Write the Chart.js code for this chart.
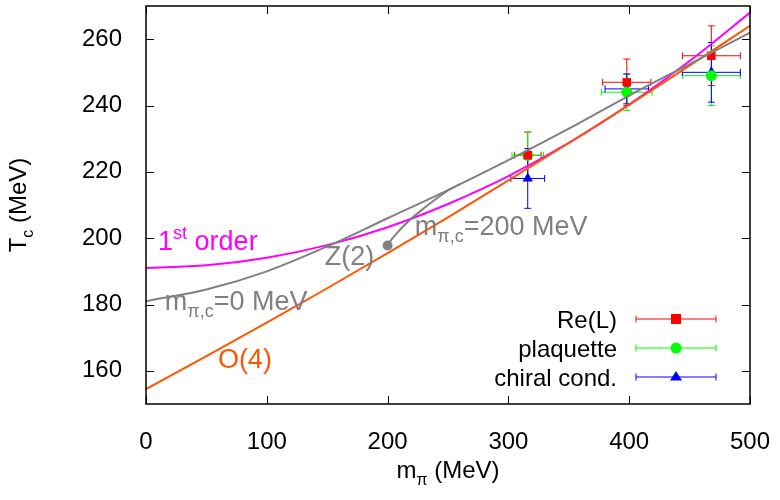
<!DOCTYPE html>
<html>
<head>
<meta charset="utf-8">
<script src="https://cdn.jsdelivr.net/npm/chart.js@4"></script>
<style>
  html, body { margin: 0; padding: 0; background: #fff; }
  #wrap { width: 780px; height: 500px; }
</style>
</head>
<body>
<div id="wrap"><canvas id="tcChart" width="780" height="500"></canvas></div>
<script>
// tick values
const xTicks = [0, 100, 200, 300, 400, 500];
const yTicks = [160, 180, 200, 220, 240, 260];

// curves (m_pi in MeV -> T_c in MeV)
const curveM = [0, 50, 100, 150, 200, 250, 300, 350, 400, 450, 500];
const firstOrderT = [191, 191.8, 194.1, 197.9, 203.3, 210.3, 218.7, 228.7, 240.3, 253.4, 268];
const o4T = [154.5, 164.4, 174.5, 184.9, 195.5, 206.3, 217.4, 228.7, 240.2, 252, 264];
const z2zeroT = [181, 184.5, 190, 197.5, 206, 214.5, 223.5, 233, 243, 252.5, 262];
// curve that starts at the Z(2) point m_pi,c = 200 MeV
const z2cM = [200, 203, 207, 212, 220, 230, 240, 250, 260];
const z2cT = [197.8, 199.5, 201.2, 203.2, 206, 209, 211.8, 214.4, 216.3];

// lattice points
const latM = [316, 398, 468];
const reLT = [225, 247, 255];
const reLTerr = [7, 7, 9];
const reLMerr = [11, 20, 24];
const plaqT = [225, 244, 249];
const plaqTerr = [7, 5.5, 9];
const plaqMerr = [13, 21, 24];
const chiralT = [218, 245, 250];
const chiralTerr = [9, 4.5, 9];
const chiralMerr = [14, 18, 24];

const FONT = "'Liberation Sans', Arial, sans-serif";
const GRAY = '#808080';

function pts(xs, ys) {
    return xs.map((x, i) => ({ x: x, y: ys[i] }));
}

// text with sub/superscripts: parts = [[text, size, dy], ...]
function richText(ctx, x, y, parts, color, align) {
    ctx.save();
    ctx.fillStyle = color;
    ctx.textBaseline = 'alphabetic';
    ctx.textAlign = 'left';
    let total = 0;
    parts.forEach(p => {
        ctx.font = p[1] + 'px ' + FONT;
        total += ctx.measureText(p[0]).width;
    });
    let cx = x;
    if (align === 'center') cx = x - total / 2;
    if (align === 'right') cx = x - total;
    parts.forEach(p => {
        ctx.font = p[1] + 'px ' + FONT;
        ctx.fillText(p[0], cx, y + p[2]);
        cx += ctx.measureText(p[0]).width;
    });
    ctx.restore();
}

function errorBars(chart, ms, ts, mErr, tErr, color) {
    const ctx = chart.ctx;
    const xs = chart.scales.x, ys = chart.scales.y;
    ctx.save();
    ctx.strokeStyle = color;
    ctx.lineWidth = 1;
    for (let i = 0; i < ms.length; i++) {
        const px = xs.getPixelForValue(ms[i]);
        const py = ys.getPixelForValue(ts[i]);
        const x0 = xs.getPixelForValue(ms[i] - mErr[i]);
        const x1 = xs.getPixelForValue(ms[i] + mErr[i]);
        const y0 = ys.getPixelForValue(ts[i] - tErr[i]);
        const y1 = ys.getPixelForValue(ts[i] + tErr[i]);
        ctx.beginPath();
        ctx.moveTo(x0, py); ctx.lineTo(x1, py);
        ctx.moveTo(x0, py - 3.5); ctx.lineTo(x0, py + 3.5);
        ctx.moveTo(x1, py - 3.5); ctx.lineTo(x1, py + 3.5);
        ctx.moveTo(px, y0); ctx.lineTo(px, y1);
        ctx.moveTo(px - 3.5, y0); ctx.lineTo(px + 3.5, y0);
        ctx.moveTo(px - 3.5, y1); ctx.lineTo(px + 3.5, y1);
        ctx.stroke();
    }
    ctx.restore();
}

function legendRow(ctx, y, label, color, style) {
    richText(ctx, 617, y + 8.5, [[label, 24, 0]], '#000', 'right');
    ctx.save();
    ctx.strokeStyle = color;
    ctx.fillStyle = color;
    ctx.lineWidth = 1;
    ctx.beginPath();
    ctx.moveTo(636, y); ctx.lineTo(716, y);
    ctx.moveTo(636, y - 3.5); ctx.lineTo(636, y + 3.5);
    ctx.moveTo(716, y - 3.5); ctx.lineTo(716, y + 3.5);
    ctx.stroke();
    ctx.beginPath();
    if (style === 'rect') {
        ctx.fillRect(671, y - 5, 10, 10);
    } else if (style === 'circle') {
        ctx.arc(676, y, 5.5, 0, Math.PI * 2);
        ctx.fill();
    } else {
        ctx.moveTo(676, y - 6); ctx.lineTo(682, y + 3.5); ctx.lineTo(670, y + 3.5);
        ctx.closePath();
        ctx.fill();
    }
    ctx.restore();
}

const overlay = {
    id: 'overlay',
    beforeDatasetsDraw(chart) {
        errorBars(chart, latM, reLT, reLMerr, reLTerr, '#ff0000');
        errorBars(chart, latM, plaqT, plaqMerr, plaqTerr, '#00ff00');
        errorBars(chart, latM, chiralT, chiralMerr, chiralTerr, '#0000ff');
    },
    afterDraw(chart) {
        const ctx = chart.ctx;
        const a = chart.chartArea;
        const xs = chart.scales.x, ys = chart.scales.y;

        // frame + inward ticks on all four sides
        ctx.save();
        ctx.strokeStyle = '#000';
        ctx.lineWidth = 1.5;
        ctx.strokeRect(a.left, a.top, a.right - a.left, a.bottom - a.top);
        ctx.lineWidth = 1;
        ctx.beginPath();
        xTicks.forEach(v => {
            const p = Math.round(xs.getPixelForValue(v)) + 0.5;
            ctx.moveTo(p, a.bottom); ctx.lineTo(p, a.bottom - 8);
            ctx.moveTo(p, a.top); ctx.lineTo(p, a.top + 8);
        });
        yTicks.forEach(v => {
            const p = Math.round(ys.getPixelForValue(v)) + 0.5;
            ctx.moveTo(a.left, p); ctx.lineTo(a.left + 8, p);
            ctx.moveTo(a.right, p); ctx.lineTo(a.right - 8, p);
        });
        ctx.stroke();
        ctx.restore();

        // curve labels
        const X = v => xs.getPixelForValue(v);
        const Y = v => ys.getPixelForValue(v);
        richText(ctx, X(10), Y(196.3), [['1', 27, 0], ['st', 18, -11], [' order', 27, 0]], '#ff00ff');
        richText(ctx, X(148), Y(192), [['Z(2)', 27, 0]], GRAY);
        richText(ctx, X(222.5), Y(201), [['m', 27, 0], ['\u03c0,c', 18, 7], ['=200 MeV', 27, 0]], GRAY);
        richText(ctx, X(15.5), Y(178.3), [['m', 27, 0], ['\u03c0,c', 18, 7], ['=0 MeV', 27, 0]], GRAY);
        richText(ctx, X(59.5), Y(160.8), [['O(4)', 27, 0]], '#ff5500');

        // axis titles
        richText(ctx, (a.left + a.right) / 2, 478, [['m', 24, 0], ['\u03c0', 16, 7], [' (MeV)', 24, 0]], '#000', 'center');
        ctx.save();
        ctx.translate(26, (a.top + a.bottom) / 2);
        ctx.rotate(-Math.PI / 2);
        richText(ctx, 0, 0, [['T', 24, 0], ['c', 16, 7], [' (MeV)', 24, 0]], '#000', 'center');
        ctx.restore();

        // legend
        legendRow(ctx, 319, 'Re(L)', '#ff0000', 'rect');
        legendRow(ctx, 348, 'plaquette', '#00ff00', 'circle');
        legendRow(ctx, 377, 'chiral cond.', '#0000ff', 'triangle');
    }
};

const lineOpts = {
    type: 'line',
    showLine: true,
    pointRadius: 0,
    borderWidth: 2,
    fill: false,
    cubicInterpolationMode: 'monotone',
    order: 0
};

const pointOpts = {
    type: 'scatter',
    showLine: false,
    pointRadius: 5.5,
    borderWidth: 0,
    order: 1
};

new Chart(document.getElementById('tcChart'), {
    type: 'scatter',
    data: {
        datasets: [
            Object.assign({}, pointOpts, { label: 'Re(L)', data: pts(latM, reLT), pointStyle: 'rect', backgroundColor: '#ff0000', borderColor: '#ff0000', pointRadius: 6 }),
            Object.assign({}, pointOpts, { label: 'plaquette', data: pts(latM, plaqT), pointStyle: 'circle', backgroundColor: '#00ff00', borderColor: '#00ff00' }),
            Object.assign({}, pointOpts, { label: 'chiral cond.', data: pts(latM, chiralT), pointStyle: 'triangle', backgroundColor: '#0000ff', borderColor: '#0000ff', pointRadius: 6 }),
            Object.assign({}, lineOpts, { label: 'Z(2) m=0', data: pts(curveM, z2zeroT), borderColor: GRAY }),
            Object.assign({}, lineOpts, { label: 'Z(2) m=200', data: pts(z2cM, z2cT), borderColor: GRAY, backgroundColor: GRAY,
                pointRadius: c => c.dataIndex === 0 ? 4 : 0 }),
            Object.assign({}, lineOpts, { label: 'O(4)', data: pts(curveM, o4T), borderColor: '#ff5500' }),
            Object.assign({}, lineOpts, { label: '1st order', data: pts(curveM, firstOrderT), borderColor: '#ff00ff' })
        ]
    },
    options: {
        responsive: false,
        animation: false,
        events: [],
        layout: { padding: { left: 0, right: 30, top: 2, bottom: 0 } },
        plugins: { legend: { display: false }, tooltip: { enabled: false } },
        scales: {
            x: {
                type: 'linear',
                min: 0,
                max: 500,
                afterBuildTicks: s => { s.ticks = xTicks.map(v => ({ value: v })); },
                afterFit: s => { s.height = 96; s.paddingLeft = 0; s.paddingRight = 0; },
                grid: { display: false },
                border: { display: false },
                ticks: { color: '#000', font: { family: FONT, size: 24 }, padding: 16, maxRotation: 0 }
            },
            y: {
                type: 'linear',
                min: 150,
                max: 270,
                afterBuildTicks: s => { s.ticks = yTicks.map(v => ({ value: v })); },
                afterFit: s => { s.width = 146; s.paddingTop = 0; s.paddingBottom = 0; },
                grid: { display: false },
                border: { display: false },
                ticks: { color: '#000', font: { family: FONT, size: 24 }, padding: 16 }
            }
        }
    },
    plugins: [overlay]
});
</script>
</body>
</html>
